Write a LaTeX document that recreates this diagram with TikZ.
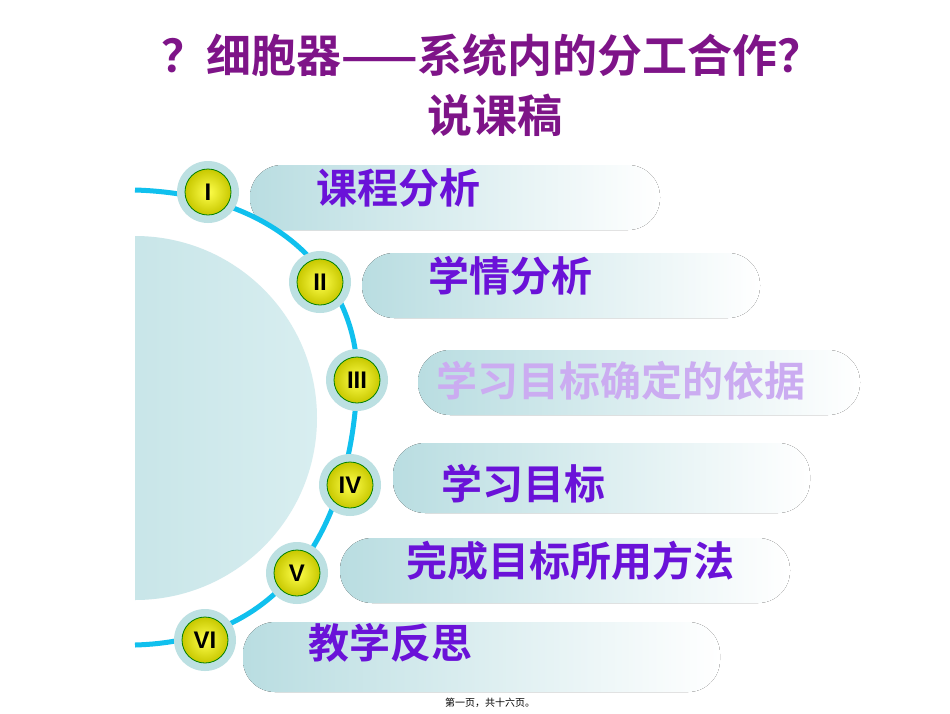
\documentclass[tikz,border=0pt]{standalone}
\usepackage{fontspec}
\newfontfamily\cjk{Noto Sans CJK SC}
\newfontfamily\cjkb{Noto Sans CJK SC Bold}
\newfontfamily\lsans{Liberation Sans}
\definecolor{tealA}{HTML}{B9DDE1}
\definecolor{tealB}{HTML}{D8EEF0}
\definecolor{ringC}{HTML}{BCE0E2}
\definecolor{arcC}{HTML}{10C0EE}
\definecolor{itemC}{HTML}{6A12D8}
\definecolor{titleC}{HTML}{7E1488}
\definecolor{ballC}{HTML}{C8C800}
\tikzset{
 bar/.style={rounded corners=32pt, left color=tealA, right color=white, draw=none},
 ring/.style={circle, fill=ringC, minimum size=62pt, inner sep=0pt},
 ball/.style={circle, inner color=yellow!70!white, outer color=ballC, draw=green!50!black, line width=0.8pt, minimum size=46pt, inner sep=0pt},
 num/.style={font=\lsans\bfseries\fontsize{24}{24}\selectfont},
 item/.style={anchor=west, text=itemC, font=\cjkb\fontsize{41}{41}\selectfont},
}
\begin{document}
\begin{tikzpicture}[x=1pt,y=-1pt]
\useasboundingbox (0,0) rectangle (950,713);
\fill[white] (0,0) rectangle (950,713);
% half disk
\begin{scope}
\clip (135,200) rectangle (400,650);
\shade[left color=tealA, right color=tealB] (135,418) circle[radius=182pt];
\end{scope}
% bars
\fill[bar] (250,165) rectangle (660,230);
\fill[bar] (362,253) rectangle (760,318);
\fill[bar] (418,350) rectangle (860,415);
\fill[bar] (393,443) rectangle (810,513);
\fill[bar] (340,538) rectangle (790,603);
\fill[bar] (243,622) rectangle (720,692);
% arc
\coordinate (a0) at (135,190);
\coordinate (a7) at (135,645);
\draw[arcC, line width=5pt] (a0) .. controls (300,195) and (360,300) .. (357,380) .. controls (355,470) and (320,640) .. (a7);
% badges
\foreach \n/\x/\y/\t in {1/208/192/I,2/320/282/II,3/357/380/III,4/350/485/IV,5/297/573/V,6/205/640/VI}{
 \node[ring] (r\n) at (\x,\y) {};
 \node[ball] (b\n) at (\x,\y) {};
 \node[num] (n\n) at (\x,\y) {\t};
}
% items
\node[item] (t1) at (313,188) {课程分析};
\node[item] (t2) at (425,276) {学情分析};
\node[item, text=itemC!35!white] (t3) at (433,381) {学习目标确定的依据};
\node[item] (t4) at (438,484) {学习目标};
\node[item] (t5) at (403,561) {完成目标所用方法};
\node[item] (t6) at (305,643) {教学反思};
% title
\node[text=titleC, font=\cjkb\fontsize{45}{45}\selectfont] (h1) at (492,55) {？细胞器——系统内的分工合作？};
\node[text=titleC, font=\cjkb\fontsize{45}{45}\selectfont] (h2) at (495,115) {说课稿};
\node[font=\cjk\fontsize{10}{10}\selectfont] (ft) at (490,703) {第一页，共十六页。};
\end{tikzpicture}
\end{document}
